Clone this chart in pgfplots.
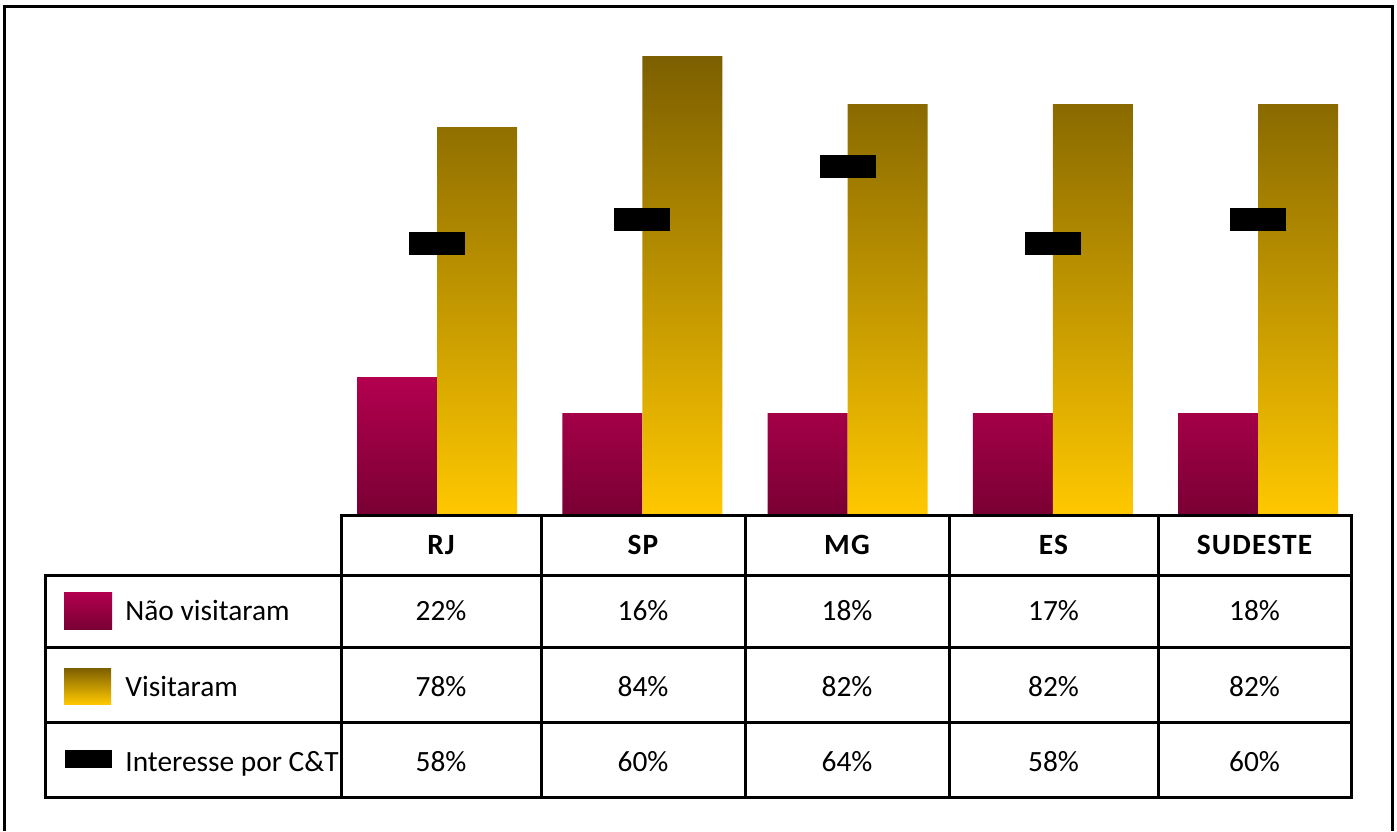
\documentclass[border=0pt]{standalone}
\usepackage{fontspec}
\setmainfont{Carlito}
\newfontfamily\hdrfont{Carlito}[LetterSpace=4]
\usepackage{pgfplots}
\pgfplotsset{compat=1.18}

\definecolor{naotop}{HTML}{B3004F}
\definecolor{naobot}{HTML}{790033}
\definecolor{vistop}{HTML}{7C5F00}
\definecolor{visbot}{HTML}{FFC800}

\begin{document}
\begin{tikzpicture}[x=0.5pt, y=-0.5pt]
\useasboundingbox (0,0) rectangle (1397,831);

% bar heights as drawn (the chart is not to scale with its table)
\begin{axis}[
    at={(170.5pt,-257.5pt)}, anchor=south west,
    scale only axis, width=505pt, height=254pt,
    xmin=-0.4677, xmax=4.4531, ymin=0, ymax=101.6,
    hide axis, clip=false
]
\addplot[ybar, bar width=40pt, bar shift=-20pt, draw=none,
    top color=naotop, bottom color=naobot]
    coordinates {(0,27.6) (1,20.4) (2,20.4) (3,20.4) (4,20.4)};
\addplot[ybar, bar width=40pt, bar shift=20pt, draw=none,
    top color=vistop, bottom color=visbot]
    coordinates {(0,77.6) (1,91.8) (2,82.2) (3,82.2) (4,82.2)};
\addplot[only marks, mark=-, mark size=14pt,
    mark options={line width=11.5pt, black}]
    coordinates {(0,54.3) (1,59.2) (2,69.7) (3,54.3) (4,59.2)};
\end{axis}

% outer frame
\draw[line width=1.6pt] (4.7,831) -- (4.7,6.5) -- (1392.5,6.5) -- (1392.5,831);

% data table
\begin{scope}[line width=1.5pt]
  \draw (341,575) -- (341,515) -- (1351,515) -- (1351,797) -- (45,797) -- (45,575) -- cycle;
  \draw (45,575) -- (1351,575);
  \draw (45,647) -- (1351,647);
  \draw (45,722) -- (1351,722);
  \foreach \xx in {341,541,745,949,1158} \draw (\xx,515) -- (\xx,797);
\end{scope}

\foreach \xx/\lab in {441/RJ, 643/SP, 847/MG, 1053.5/ES, 1254.5/SUDESTE}
  \node[anchor=base, inner sep=0pt, font=\hdrfont\bfseries\fontsize{14.7}{16}\selectfont] at (\xx,554) {\lab};

\foreach \xx/\a/\b/\c in {441/22/78/58, 643/16/84/60, 847/18/82/64, 1053.5/17/82/58, 1254.5/18/82/60} {
  \node[anchor=base, inner sep=0pt, font=\fontsize{14.7}{16}\selectfont] at (\xx,620.5) {\a\%};
  \node[anchor=base, inner sep=0pt, font=\fontsize{14.7}{16}\selectfont] at (\xx,696) {\b\%};
  \node[anchor=base, inner sep=0pt, font=\fontsize{14.7}{16}\selectfont] at (\xx,771.5) {\c\%};
}

% legend keys and row labels
\shade[top color=naotop, bottom color=naobot] (64,592) rectangle (112,629);
\shade[top color=vistop, bottom color=visbot] (64,668) rectangle (111,704);
\fill[black] (65,750) rectangle (112,768);
\node[anchor=base west, inner sep=0pt, font=\fontsize{14.7}{16}\selectfont] at (125,620.5) {Não visitaram};
\node[anchor=base west, inner sep=0pt, font=\fontsize{14.7}{16}\selectfont] at (125,696) {Visitaram};
\node[anchor=base west, inner sep=0pt, font=\fontsize{14.7}{16}\selectfont] at (125,771.5) {Interesse por C\&T};
\end{tikzpicture}
\end{document}
